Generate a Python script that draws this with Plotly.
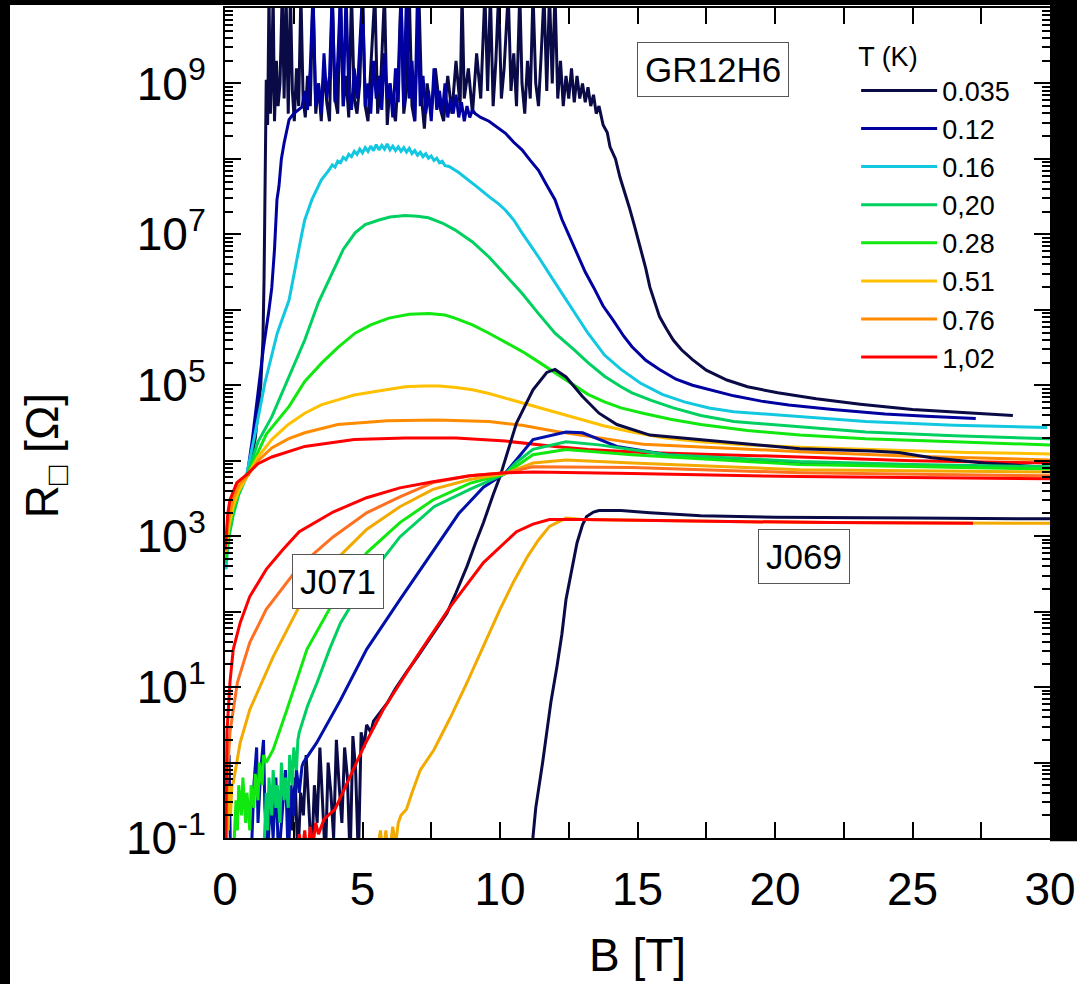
import plotly.graph_objects as go

# ---------------- DATA (B in tesla, R as log10(R / Ohm)) ----------------
temps = ["0.035", "0.12", "0.16", "0,20", "0.28", "0.51", "0.76", "1,02"]
colors = ["#0a0a46", "#0000a0", "#12c8e0", "#00d060", "#10e810", "#ffc000", "#ff8c00", "#ff0000"]

# ---- GR12H6 ----
gr_035_B = [0.85, 1.1, 1.3, 1.38, 1.42, 1.45, 1.48, 1.5,
            1.55, 1.60, 1.65, 1.70, 1.75, 1.80, 1.87, 1.93, 2.00, 2.08, 2.15, 2.22, 2.30, 2.38, 2.45, 2.52,
            2.60, 2.68, 2.76, 2.84, 2.92, 3.00, 3.10, 3.20, 3.30, 3.40, 3.50, 3.60, 3.70, 3.80, 3.90, 4.00,
            4.10, 4.20, 4.30, 4.40, 4.50, 4.60, 4.70, 4.80, 4.90, 5.00, 5.10, 5.20, 5.30, 5.45, 5.55, 5.65,
            5.80, 5.90, 6.00, 6.10, 6.20, 6.30, 6.40, 6.50, 6.60, 6.70, 6.80, 6.90, 7.05, 7.15, 7.25, 7.35,
            7.50, 7.65, 7.80, 7.95, 8.10, 8.25, 8.40, 8.55, 8.62, 8.70, 8.85, 9.00, 9.15, 9.30, 9.45, 9.55,
            9.65, 9.75, 9.85, 9.95, 10.05, 10.15, 10.30, 10.40, 10.50, 10.60, 10.72, 10.80, 10.90, 11.00,
            11.10, 11.20, 11.30, 11.40, 11.50, 11.60, 11.70, 11.80, 11.90, 12.00, 12.10, 12.20, 12.30, 12.40,
            12.50, 12.60, 12.70, 12.80, 12.90, 13.00, 13.10, 13.20, 13.30, 13.40, 13.50, 13.60,
            13.75, 13.9, 14.0, 14.2, 14.36, 14.55, 14.7, 14.9, 15.1, 15.3, 15.45, 15.6, 15.8, 16.05, 16.3,
            16.6, 17.0, 17.5, 18.25, 19.0, 20.1, 21.5, 23.1, 25.0, 27.0, 28.65]
gr_035_R = [3.80, 4.3, 5.0, 5.6, 6.4, 7.2, 8.2, 9.05,
            8.45, 10.2, 8.6, 9.1, 10.2, 8.5, 9.3, 8.7, 9.0, 10.2, 8.8, 10.2, 8.6, 10.2, 8.9, 8.5,
            9.2, 8.7, 10.2, 8.8, 8.55, 9.1, 8.7, 10.2, 8.6, 9.0, 8.5, 9.2, 8.75, 8.5, 10.2, 8.8,
            8.6, 10.2, 8.7, 9.1, 8.55, 10.2, 8.8, 8.6, 9.0, 10.2, 8.7, 8.5, 9.2, 10.2, 8.6, 8.9,
            10.2, 8.45, 9.0, 8.7, 8.5, 9.1, 10.2, 8.6, 8.9, 10.2, 8.7, 8.5, 10.2, 8.8, 8.4, 9.0,
            8.6, 9.2, 8.7, 8.5, 9.1, 8.6, 9.3, 8.7, 10.2, 8.8, 9.2, 8.6, 9.4, 8.8, 10.2, 8.9,
            10.2, 8.7, 9.3, 10.2, 8.8, 9.2, 10.2, 8.9, 9.4, 8.7, 10.2, 9.0, 8.6, 9.3,
            8.8, 10.2, 9.0, 8.7, 9.4, 10.2, 8.9, 10.2, 9.0, 10.2, 8.8, 9.3, 8.7, 9.1,
            8.8, 9.2, 8.75, 9.1, 8.8, 9.0, 8.75, 8.95, 8.7, 8.85, 8.6, 8.7,
            8.45, 8.35, 8.16, 8.0, 7.76, 7.55, 7.36, 7.1, 6.83, 6.55, 6.30, 6.12, 5.91, 5.75, 5.60,
            5.47, 5.34, 5.2, 5.07, 4.98, 4.90, 4.82, 4.75, 4.68, 4.64, 4.60]

gr_012_B = [0.8, 1.0, 1.2, 1.4, 1.6, 1.7, 1.8, 1.89, 1.96, 2.05, 2.15, 2.33, 2.5, 2.8,
            2.9, 3.0, 3.1, 3.2, 3.3, 3.4, 3.5, 3.6, 3.7, 3.8, 3.9, 4.0, 4.1, 4.2, 4.3, 4.4, 4.5, 4.6,
            4.7, 4.8, 4.9, 5.0, 5.1, 5.2, 5.3, 5.4, 5.5, 5.6, 5.7, 5.8, 5.9, 6.0, 6.1, 6.2, 6.3, 6.4,
            6.5, 6.6, 6.7, 6.8, 6.9, 7.0, 7.1, 7.2, 7.3, 7.4, 7.5, 7.6, 7.7, 7.8, 7.9, 8.0, 8.1, 8.2,
            8.3, 8.4, 8.5, 8.6, 8.7, 8.8, 8.9, 9.0, 9.1,
            9.3, 9.6, 9.9, 10.2, 10.5, 10.8, 11.1, 11.4, 11.7, 12.0, 12.25, 12.5, 12.8, 13.1, 13.4,
            13.75, 14.1, 14.5, 14.8, 15.3, 15.8, 16.4, 17.0, 17.8, 18.5, 19.5, 20.5, 22.1, 24.0, 25.5, 27.3]
gr_012_R = [3.79, 4.3, 4.9, 5.5, 6.0, 6.29, 6.8, 7.46, 7.63, 8.0, 8.21, 8.52, 8.6, 8.69,
            8.9, 8.65, 9.2, 10.2, 8.7, 9.0, 8.6, 9.4, 8.8, 9.1, 10.2, 8.75, 9.3, 10.2, 8.7, 10.2, 8.9, 8.65,
            9.2, 8.8, 9.5, 10.2, 8.7, 9.0, 8.6, 9.3, 8.8, 9.1, 8.65, 9.4, 8.8, 9.0, 8.55, 9.2, 8.75, 10.2,
            8.7, 10.2, 8.8, 9.3, 8.5, 10.2, 8.7, 9.1, 8.6, 8.9, 8.5, 9.2, 8.65, 8.9, 8.6, 9.0, 8.55, 8.8,
            8.6, 8.85, 8.55, 8.75, 8.5, 8.7, 8.55, 8.65, 8.6,
            8.55, 8.5, 8.42, 8.34, 8.22, 8.12, 7.98, 7.85, 7.65, 7.46, 7.2, 7.0, 6.75, 6.5, 6.30,
            6.05, 5.87, 5.65, 5.51, 5.33, 5.21, 5.08, 5.0, 4.92, 4.86, 4.79, 4.74, 4.68, 4.62, 4.59, 4.56]

gr_016_B = [0.04, 0.1, 0.2, 0.35, 0.55, 0.8, 1.1, 1.45, 1.9, 2.33, 2.8, 2.9, 3.16, 3.27, 3.5,
            3.78, 3.9, 4.0, 4.1, 4.2, 4.3, 4.4, 4.5, 4.6, 4.7, 4.8, 4.9, 5.0, 5.1, 5.2, 5.3, 5.4, 5.5,
            5.6, 5.7, 5.8, 5.9, 6.0, 6.1, 6.2, 6.3, 6.4, 6.5, 6.6, 6.7, 6.8, 6.9, 7.0, 7.1, 7.2, 7.3,
            7.4, 7.5, 7.6, 7.7, 7.8, 7.9, 8.0, 8.15, 8.5, 8.87, 9.2, 9.6, 9.96, 10.2, 10.5, 10.8, 11.4,
            12.0, 12.6, 13.2, 13.8, 14.4, 15.1, 15.9, 16.7, 17.6, 18.5, 20.9, 23.3, 26.5, 29.9]
gr_016_R = [2.56, 2.9, 3.2, 3.45, 3.62, 3.84, 4.37, 5.03, 5.69, 6.13, 7.02, 7.19, 7.46, 7.55, 7.72,
            7.85, 7.92, 7.89, 7.97, 7.95, 8.02, 7.99, 8.06, 8.03, 8.10, 8.06, 8.13, 8.08, 8.15, 8.10, 8.17, 8.11, 8.19,
            8.12, 8.18, 8.13, 8.20, 8.12, 8.17, 8.11, 8.16, 8.10, 8.15, 8.09, 8.14, 8.07, 8.11, 8.05, 8.09, 8.03, 8.07,
            8.01, 8.04, 7.98, 8.01, 7.95, 7.97, 7.91, 7.90, 7.82, 7.72, 7.62, 7.50, 7.40, 7.32, 7.19, 7.02, 6.70,
            6.36, 6.02, 5.69, 5.40, 5.21, 5.03, 4.88, 4.78, 4.70, 4.65, 4.58, 4.52, 4.47, 4.44]

gr_020_B = [0.03, 0.15, 0.3, 0.5, 0.8, 1.2, 1.7, 2.3, 2.9, 3.4, 3.9, 4.3, 4.73, 5.1, 5.6, 6.0, 6.55,
            7.0, 7.4, 7.9, 8.36, 9.0, 9.6, 10.2, 10.8, 11.4, 12.0, 12.7, 13.2, 13.8, 14.4, 14.8, 15.5,
            16.3, 17.3, 18.5, 20.9, 23.3, 26.5, 30.0]
gr_020_R = [2.65, 3.0, 3.28, 3.55, 3.80, 4.25, 4.58, 5.1, 5.6, 6.1, 6.49, 6.8, 7.02, 7.13, 7.19, 7.23, 7.25,
            7.24, 7.22, 7.15, 7.06, 6.9, 6.70, 6.46, 6.22, 5.95, 5.69, 5.47, 5.30, 5.12, 4.98, 4.90, 4.80,
            4.70, 4.60, 4.52, 4.45, 4.38, 4.33, 4.29]

gr_028_B = [0.02, 0.15, 0.3, 0.5, 0.8, 1.5, 2.33, 2.9, 3.53, 4.1, 4.73, 5.3, 5.96, 6.7, 7.42, 8.0, 8.36,
            9.0, 9.6, 10.2, 10.8, 11.4, 12.0, 12.6, 13.2, 13.8, 14.4, 15.2, 16.2, 17.3, 19.0, 20.9, 23.3,
            26.5, 30.0]
gr_028_R = [2.7, 3.1, 3.35, 3.6, 3.80, 4.35, 4.72, 5.05, 5.30, 5.50, 5.69, 5.80, 5.89, 5.94, 5.95, 5.93, 5.89,
            5.80, 5.69, 5.57, 5.45, 5.31, 5.17, 5.02, 4.88, 4.78, 4.70, 4.63, 4.55, 4.48, 4.40, 4.34, 4.29,
            4.25, 4.21]

gr_051_B = [0.01, 0.15, 0.3, 0.5, 0.8, 1.2, 1.7, 2.3, 2.9, 3.5, 4.13, 4.7, 5.35, 6.0, 6.55, 7.2, 7.8,
            8.4, 9.0, 9.6, 10.2, 10.8, 11.4, 12.0, 12.6, 13.2, 13.8, 14.8, 16.0, 17.3, 19.0, 20.9, 24.0,
            27.0, 30.0]
gr_051_R = [2.78, 3.15, 3.4, 3.6, 3.79, 4.05, 4.28, 4.48, 4.63, 4.74, 4.81, 4.87, 4.91, 4.95, 4.98, 4.99, 4.99,
            4.97, 4.94, 4.89, 4.83, 4.76, 4.70, 4.64, 4.58, 4.52, 4.46, 4.38, 4.30, 4.25, 4.21, 4.18, 4.14,
            4.11, 4.09]

gr_076_B = [0.01, 0.12, 0.3, 0.5, 0.8, 1.2, 1.7, 2.3, 2.9, 4.1, 5.9, 7.7, 9.6, 10.8, 12.0, 13.2, 14.4,
            15.2, 17.3, 20.9, 25.0, 30.0]
gr_076_R = [2.8, 3.2, 3.5, 3.68, 3.79, 4.0, 4.17, 4.29, 4.37, 4.48, 4.53, 4.54, 4.52, 4.47, 4.39, 4.32, 4.26,
            4.22, 4.18, 4.12, 4.06, 4.01]

gr_102_B = [0.01, 0.1, 0.18, 0.43, 0.8, 1.2, 1.7, 2.9, 4.7, 6.55, 8.4, 10.2, 12.0, 13.2, 15.2, 17.3, 20.9,
            25.0, 30.0]
gr_102_R = [2.82, 3.3, 3.48, 3.71, 3.82, 3.96, 4.05, 4.19, 4.28, 4.30, 4.30, 4.26, 4.19, 4.15, 4.11, 4.09, 4.05,
            4.00, 3.97]

# ---- J071 ----
j071_035_B = [2.3, 2.35, 2.45, 2.55, 2.65, 2.75, 2.85, 2.95, 3.05, 3.15, 3.25, 3.35, 3.45, 3.55, 3.65, 3.75,
              3.85, 3.95, 4.05, 4.15, 4.25, 4.35, 4.45, 4.55, 4.65, 4.75, 4.85, 4.95, 5.05, 5.15, 5.3, 5.4,
              5.6, 5.9, 6.2, 6.6, 7.0, 7.35, 7.7, 8.07, 8.4, 8.8, 9.1, 9.4, 9.75, 10.0, 10.6, 11.2, 11.7,
              12.0, 12.4, 13.0, 13.6, 14.25, 15.45, 17.3, 20.9, 23.5, 24.5, 25.7, 27.6, 30.0]
j071_035_R = [-1.3, -0.5, -0.9, -0.2, -1.3, -0.4, -0.7, 0.1, -0.6, -1.3, -0.3, -0.8, 0.2, -0.5, -1.3, 0.0,
              -0.4, -1.0, 0.3, -0.3, -0.8, 0.2, -0.2, -1.3, 0.35, -0.1, -1.3, 0.4, 0.2, 0.5, 0.4, 0.55,
              0.65, 0.79, 0.98, 1.2, 1.4, 1.59, 1.78, 1.98, 2.25, 2.6, 2.9, 3.18, 3.55, 3.79, 4.50, 4.94, 5.17,
              5.21, 5.11, 4.85, 4.63, 4.48, 4.34, 4.28, 4.16, 4.13, 4.11, 4.04, 3.97, 3.91]

j071_012_B = [0.12, 0.15, 0.2, 0.95, 1.05, 1.15, 1.2, 1.3, 1.4, 1.45, 1.55, 1.65, 1.75, 1.85, 1.95, 2.1,
              2.2, 2.3, 2.4, 2.5, 2.6, 2.7, 2.8, 2.85, 3.33, 4.2, 5.15, 6.36, 7.6, 8.5, 9.4, 10.2, 11.2,
              12.4, 13.0, 14.25, 16.1, 18.5, 20.9, 25.0, 30.0]
j071_012_R = [-0.1, 0.1, -1.3, -1.3, -0.3, 0.2, -0.8, -0.1, 0.3, -0.6, -1.3, -0.4, -1.0, -0.2, -1.3, -0.5,
              -0.1, -1.3, -0.3, -0.7, -0.1, -0.4, -0.05, 0.0, 0.26, 0.83, 1.5, 2.16, 2.82, 3.3, 3.65, 3.84, 4.28,
              4.38, 4.37, 4.19, 4.08, 4.01, 3.97, 3.93, 3.90]

j071_020_B = [1.4, 1.5, 1.55, 1.6, 1.7, 1.75, 1.85, 1.9, 2.0, 2.05, 2.15, 2.2, 2.3, 2.35, 2.45, 2.5, 2.6,
              2.65, 2.7, 3.0, 3.35, 3.8, 4.2, 5.15, 6.36, 7.6, 8.9, 10.2, 10.6, 11.2, 12.4, 13.6, 16.1,
              20.9, 25.0, 30.0]
j071_020_R = [-1.3, -0.4, -0.9, -0.2, -0.7, -0.1, -0.6, -0.3, -0.8, 0.0, -0.5, -0.2, -0.6, 0.1, -0.3, 0.2, -0.1,
              0.3, 0.40, 0.75, 1.06, 1.5, 1.85, 2.42, 2.99, 3.39, 3.62, 3.83, 3.98, 4.15, 4.25, 4.21, 4.08,
              3.99, 3.95, 3.92]

j071_028_B = [0.3, 0.4, 0.45, 0.5, 0.6, 0.65, 0.75, 0.8, 0.9, 0.95, 1.05, 1.1, 1.2, 1.25, 1.35, 1.4, 1.5,
              1.75, 2.25, 2.98, 3.93, 5.15, 6.36, 7.56, 8.9, 10.2, 11.2, 12.4, 14.8, 20.9, 30.0]
j071_028_R = [-1.3, -0.5, -0.9, -0.3, -0.7, -0.2, -0.8, -0.4, -0.9, -0.3, -0.6, -0.15, -0.5, 0.0, -0.3, 0.1, 0.0,
              0.17, 0.70, 1.5, 2.12, 2.78, 3.18, 3.48, 3.70, 3.83, 4.08, 4.15, 4.08, 3.95, 3.89]

j071_051_B = [0.05, 0.08, 0.12, 0.15, 0.2, 0.25, 0.3, 0.55, 0.9, 1.75, 2.7, 3.93, 5.15, 6.36, 7.56, 8.9,
              10.2, 11.2, 12.4, 14.8, 20.9, 30.0]
j071_051_R = [-1.3, -0.5, -0.9, -0.3, -0.7, -0.3, -0.27, 0.26, 0.70, 1.40, 2.07, 2.65, 3.09, 3.39, 3.62, 3.75,
              3.83, 3.97, 4.01, 3.97, 3.88, 3.85]

j071_076_B = [0.03, 0.07, 0.18, 0.45, 0.9, 1.5, 2.7, 3.93, 5.15, 6.36, 7.56, 8.9, 10.2, 11.2, 14.8, 20.9, 30.0]
j071_076_R = [-1.3, -0.27, 0.40, 1.06, 1.59, 2.03, 2.6, 2.99, 3.31, 3.52, 3.71, 3.80, 3.84, 3.92, 3.91, 3.84, 3.80]

j071_102_B = [0.02, 0.04, 0.07, 0.18, 0.3, 0.55, 0.9, 1.5, 2.1, 2.7, 3.93, 5.15, 6.36, 7.56, 8.9, 10.2, 11.2,
              14.8, 20.9, 30.0]
j071_102_R = [-1.3, -0.71, 0.40, 1.06, 1.5, 1.85, 2.2, 2.56, 2.82, 3.06, 3.32, 3.51, 3.64, 3.72, 3.80, 3.84, 3.85,
              3.83, 3.79, 3.76]

# ---- J069 ----
j069_035_B = [11.15, 11.2, 11.3, 11.45, 11.55, 11.7, 11.85, 12.07, 12.25, 12.4, 12.6, 12.8, 13.0, 13.15,
              13.4, 13.6, 14.4, 15.45, 17.3, 20.0, 25.0, 30.0]
j069_035_R = [-1.3, -0.98, -0.6, -0.27, 0.0, 0.40, 0.8, 1.27, 1.7, 2.16, 2.55, 2.91, 3.15, 3.26,
              3.32, 3.34, 3.34, 3.31, 3.27, 3.25, 3.24, 3.23]

j069_051_B = [5.5, 5.65, 5.75, 5.85, 5.95, 6.1, 6.2, 6.3, 6.4, 6.6, 6.8, 7.1, 7.6, 8.2, 8.8, 9.4, 10.0,
              10.5, 11.0, 11.4, 11.8, 12.4, 13.0, 17.0, 22.0, 30.0]
j069_051_R = [-1.3, -0.9, -1.2, -0.9, -1.3, -0.85, -1.1, -0.8, -0.7, -0.62, -0.4, -0.1, 0.17, 0.6, 1.06, 1.55, 2.03,
              2.4, 2.73, 2.95, 3.13, 3.24, 3.22, 3.20, 3.18, 3.17]

j069_102_B = [2.6, 2.7, 2.8, 2.9, 3.0, 3.1, 3.2, 3.3, 3.4, 3.6, 4.0, 4.55, 5.1, 5.75, 6.97, 8.2, 9.4, 10.6,
              11.2, 11.8, 13.0, 17.0, 22.0, 27.2]
j069_102_R = [-1.3, -0.95, -1.2, -0.9, -1.3, -0.85, -1.1, -0.8, -0.95, -0.75, -0.62, -0.19, 0.25, 0.70, 1.40, 2.07,
              2.65, 3.06, 3.16, 3.22, 3.22, 3.20, 3.18, 3.17]

# axis ticks
y_label_decades = [-1, 1, 3, 5, 7, 9]
y_ticktext = ["10<sup>-1</sup>", "10<sup>1</sup>", "10<sup>3</sup>", "10<sup>5</sup>", "10<sup>7</sup>",
              "10<sup>9</sup>"]
y_unlabelled_decades = [0, 2, 4, 6, 8, 10]
x_tickvals = [0, 5, 10, 15, 20, 25, 30]
x_minor = [2.5, 7.5, 12.5, 17.5, 22.5, 27.5]

# ---------------- FIGURE ----------------
FONT = "Liberation Sans, Arial, sans-serif"
fig = go.Figure()

gr = [(gr_035_B, gr_035_R), (gr_012_B, gr_012_R), (gr_016_B, gr_016_R), (gr_020_B, gr_020_R),
      (gr_028_B, gr_028_R), (gr_051_B, gr_051_R), (gr_076_B, gr_076_R), (gr_102_B, gr_102_R)]
j071 = {0: (j071_035_B, j071_035_R), 1: (j071_012_B, j071_012_R), 3: (j071_020_B, j071_020_R),
        4: (j071_028_B, j071_028_R), 5: (j071_051_B, j071_051_R), 6: (j071_076_B, j071_076_R),
        7: (j071_102_B, j071_102_R)}
j069 = {0: (j069_035_B, j069_035_R), 5: (j069_051_B, j069_051_R), 7: (j069_102_B, j069_102_R)}
j_colors = {0: "#0a0a46", 1: "#0010a8", 3: "#00d060", 4: "#10e810", 5: "#f2aa00", 6: "#ff7020", 7: "#ff0000"}

LW = 3
for i, (bx, lr) in enumerate(gr):
    fig.add_trace(go.Scatter(x=bx, y=[10 ** v for v in lr], mode="lines", name=temps[i],
                             line=dict(color=colors[i], width=LW), showlegend=True))
for i, (bx, lr) in j071.items():
    fig.add_trace(go.Scatter(x=bx, y=[10 ** v for v in lr], mode="lines", name="J071 " + temps[i],
                             line=dict(color=j_colors[i], width=LW), showlegend=False))
for i, (bx, lr) in j069.items():
    fig.add_trace(go.Scatter(x=bx, y=[10 ** v for v in lr], mode="lines", name="J069 " + temps[i],
                             line=dict(color=j_colors[i], width=LW), showlegend=False))

minor_y = [k * 10 ** d for d in range(-1, 10) for k in range(2, 10)]
tickstyle = dict(ticks="inside", tickwidth=2, tickcolor="black")

fig.update_layout(
    xaxis=dict(range=[0, 30], tickmode="array", tickvals=x_tickvals, ticklen=16, **tickstyle,
               showline=True, linewidth=2, linecolor="black", mirror="allticks", showgrid=False,
               zeroline=False, automargin=False,
               tickfont=dict(family=FONT, size=46, color="black"), ticklabelstandoff=10,
               minor=dict(tickmode="array", tickvals=x_minor, ticklen=9, showgrid=False, **tickstyle)),
    yaxis=dict(type="log", range=[-1, 10], tickmode="array",
               tickvals=[10 ** d for d in y_label_decades], ticktext=y_ticktext, ticklen=16, **tickstyle,
               showline=True, linewidth=2, linecolor="black", mirror="allticks", showgrid=False,
               zeroline=False, automargin=False,
               tickfont=dict(family=FONT, size=46, color="black"), ticklabelstandoff=8,
               minor=dict(tickmode="array", tickvals=minor_y, ticklen=8, showgrid=False, **tickstyle)),
    yaxis2=dict(type="log", range=[-1, 10], overlaying="y", side="left", tickmode="array",
                tickvals=[10 ** d for d in y_unlabelled_decades], showticklabels=False, ticklen=16,
                **tickstyle, showline=False, mirror="allticks", showgrid=False, zeroline=False,
                automargin=False),
)
# empty trace so that the second (unlabelled decade-tick) y axis is drawn
fig.add_trace(go.Scatter(x=[None], y=[None], yaxis="y2", showlegend=False, hoverinfo="skip"))

box = dict(showarrow=False, bordercolor="#555555", borderwidth=1, bgcolor="white", borderpad=7,
           font=dict(family=FONT, size=35, color="black"))
fig.add_annotation(x=17.75, y=9.18, xref="x", yref="y", text="GR12H6", **box)
fig.add_annotation(x=4.1, y=2.40, xref="x", yref="y", text="J071", **box)
fig.add_annotation(x=21.05, y=2.73, xref="x", yref="y", text="J069", **box)

# axis titles
fig.add_annotation(x=-0.218, y=0.46, xref="paper", yref="paper", xanchor="center", yanchor="middle",
                   text="R<sub>□</sub> [Ω]", textangle=-90, showarrow=False,
                   font=dict(family=FONT, size=46, color="black"))
fig.add_annotation(x=0.5006, y=-0.1747, xref="paper", yref="paper", xanchor="center", yanchor="bottom",
                   text="B [T]", showarrow=False, font=dict(family=FONT, size=46, color="black"))

# white page on black frame
fig.add_shape(type="rect", xref="paper", yref="paper", x0=-0.2606, x1=1.0, y0=-0.25, y1=1.0036,
              fillcolor="white", line=dict(width=0), layer="below")
fig.add_shape(type="rect", xref="paper", yref="paper", x0=0.99, x1=1.05, y0=-0.25, y1=-0.004,
              fillcolor="white", line=dict(width=0), layer="below")

fig.update_layout(
    width=1077, height=984, margin=dict(l=225, r=27, t=8, b=146, autoexpand=False),
    paper_bgcolor="black", plot_bgcolor="white",
    font=dict(family=FONT, color="black"),
    legend=dict(x=0.765, y=0.972, xanchor="left", yanchor="top", bgcolor="rgba(0,0,0,0)",
                itemwidth=76, font=dict(family=FONT, size=27, color="black"),
                title=dict(text="T (K)", font=dict(family=FONT, size=27, color="black"))),
)

fig.write_html("out.html")
